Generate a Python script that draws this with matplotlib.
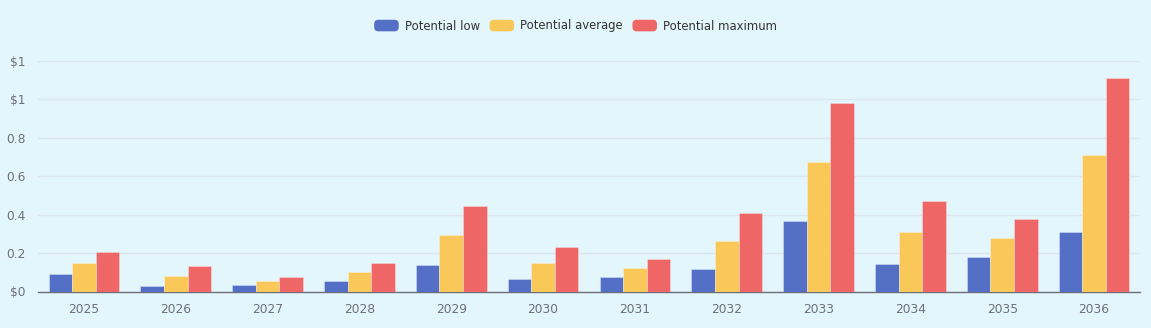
import numpy as np
import matplotlib
matplotlib.use("Agg")
import matplotlib.pyplot as plt
from matplotlib.patches import FancyBboxPatch
from matplotlib.legend_handler import HandlerPatch
from matplotlib.ticker import FuncFormatter

# Price projections per year
years = ["2025", "2026", "2027", "2028", "2029", "2030",
         "2031", "2032", "2033", "2034", "2035", "2036"]
potential_low = [0.091, 0.029, 0.032, 0.053, 0.138, 0.065,
                 0.076, 0.117, 0.366, 0.143, 0.180, 0.308]
potential_average = [0.148, 0.081, 0.055, 0.100, 0.294, 0.148,
                     0.122, 0.263, 0.673, 0.308, 0.277, 0.709]
potential_maximum = [0.206, 0.133, 0.077, 0.148, 0.445, 0.232,
                     0.169, 0.409, 0.980, 0.471, 0.376, 1.110]

BG = "#e3f6fc"
COLORS = ["#5470c6", "#fac858", "#ee6666"]
LABELS = ["Potential low", "Potential average", "Potential maximum"]


class RoundedHandler(HandlerPatch):
    """Legend swatch drawn as a rounded rectangle."""
    def create_artists(self, legend, orig_handle, xdescent, ydescent,
                       width, height, fontsize, trans):
        p = FancyBboxPatch((-xdescent, -ydescent), width, height,
                           boxstyle="round,pad=0,rounding_size=3",
                           facecolor=orig_handle.get_facecolor(),
                           edgecolor="none", transform=trans)
        return [p]


def price_label(v, _pos):
    if v == 0 or v >= 1:
        return f"${v:.0f}"
    return f"{v:.1f}"


fig = plt.figure(figsize=(11.51, 3.28), dpi=100, facecolor=BG)
ax = fig.add_axes([38 / 1151, 36.5 / 328, 1102 / 1151, 230.5 / 328], facecolor=BG)

x = np.arange(len(years))
width = 0.257
series = [potential_low, potential_average, potential_maximum]
handles = []
for i, (vals, color, label) in enumerate(zip(series, COLORS, LABELS)):
    bars = ax.bar(x + (i - 1) * width, vals, width, color=color, label=label,
                  zorder=3, edgecolor=(1, 1, 1, 0.35), linewidth=0.6)
    handles.append(bars[0])

ax.set_xlim(-0.5, len(years) - 0.5)
ax.set_ylim(0, 1.2)
ax.set_yticks([0, 0.2, 0.4, 0.6, 0.8, 1.0, 1.2])
ax.yaxis.set_major_formatter(FuncFormatter(price_label))
ax.set_xticks(x)
ax.set_xticklabels(years)

ax.grid(axis="y", color="#dde6ef", linewidth=1, zorder=0)
for side in ["top", "right", "left"]:
    ax.spines[side].set_visible(False)
ax.spines["bottom"].set_color("#6e7079")
ax.spines["bottom"].set_linewidth(1)
ax.tick_params(axis="both", length=0, labelsize=8.8, labelcolor="#6e7079")
ax.tick_params(axis="y", pad=9)
ax.tick_params(axis="x", pad=8)

fig.legend(handles, LABELS, loc="center", bbox_to_anchor=(0.5, 1 - 26 / 328),
           ncol=3, frameon=False, fontsize=8.4, labelcolor="#333333",
           handlelength=2.1, handleheight=1.15, handletextpad=0.5,
           columnspacing=0.85, handler_map={h: RoundedHandler() for h in handles})

fig.savefig("out.png", dpi=100, facecolor=BG)
